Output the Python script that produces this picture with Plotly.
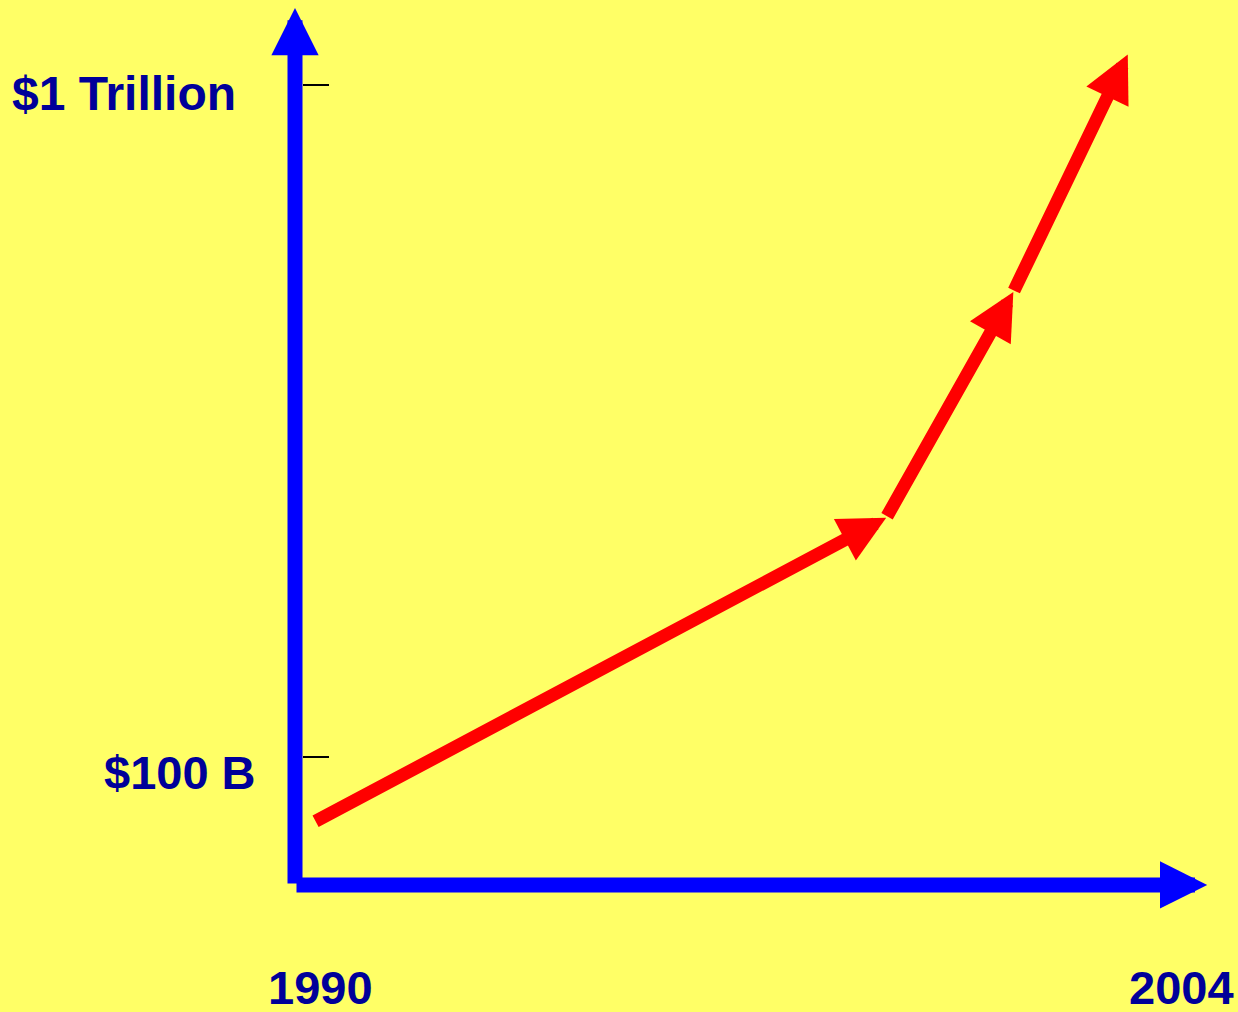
import numpy as np
import plotly.graph_objects as go

# ---- data ----
years = [1990.3, 1999.3, 2001.3, 2003.1]          # red growth path, x (year)
value_billion = [80, 227, 492, 1110]               # red growth path, y ($ billions, log scale)
tick_values = [100, 1000]                          # y tick positions ($ billions)
tick_labels = ["$100 B", "$1 Trillion"]
x_labels = ["1990", "2004"]
x_label_years = [1990, 2004]

# axis frame extents
origin_year = 1990
origin_value = 64.5
x_axis_end_year = 2004.35
y_axis_top_value = 1302

W, H = 1238, 1012
BG = "#FFFF66"
BLUE = "#0000FF"
RED = "#FF0000"
TEXT = "#000099"
FONT = "Liberation Sans"

# axis ranges chosen so that the full canvas is the plotting area
px_per_year = 63.57
x_range = [1990 - 295 / px_per_year, 1990 + (W - 295) / px_per_year]
px_per_decade = 672
y_range = [2 - (H - 757) / px_per_decade, 3 + 85 / px_per_decade]

fig = go.Figure()
# invisible trace to establish axes
fig.add_trace(go.Scatter(x=years, y=value_billion, mode="markers",
                         marker=dict(opacity=0), hoverinfo="skip", showlegend=False))

ann = []

def arrow(x0, y0, x1, y1, color, width, size):
    ann.append(dict(x=x1, y=np.log10(y1), ax=x0, ay=np.log10(y0),
                    xref="x", yref="y", axref="x", ayref="y",
                    text="", showarrow=True, arrowhead=2, arrowsize=size,
                    arrowwidth=width, arrowcolor=color, standoff=0))

# blue axes
arrow(origin_year, origin_value, origin_year, y_axis_top_value, BLUE, 15, 0.63)
arrow(origin_year, origin_value, x_axis_end_year, origin_value, BLUE, 15, 0.63)

# red growth arrows
for i in range(len(years) - 1):
    arrow(years[i], value_billion[i], years[i + 1], value_billion[i + 1], RED, 13, 0.72)

bold = dict(family=FONT, size=48, color=TEXT, weight="bold")
# y labels
ann.append(dict(x=10 / W, y=np.log10(tick_values[1]), xref="paper", yref="y",
                text=tick_labels[1], showarrow=False, xanchor="left", yanchor="middle",
                yshift=-8, font=bold))
ann.append(dict(x=258 / W, y=np.log10(tick_values[0]), xref="paper", yref="y",
                text=tick_labels[0], showarrow=False, xanchor="right", yanchor="middle",
                yshift=-15, font=dict(bold, size=47)))
# x labels
ann.append(dict(x=x_label_years[0], y=1 - 987 / H, xref="x", yref="paper",
                text=x_labels[0], showarrow=False, xanchor="center", yanchor="middle",
                xshift=25, font=dict(bold, size=47)))
ann.append(dict(x=1236 / W, y=1 - 987 / H, xref="paper", yref="paper",
                text=x_labels[1], showarrow=False, xanchor="right", yanchor="middle",
                font=dict(bold, size=47)))

fig.update_layout(
    width=W, height=H,
    margin=dict(l=0, r=0, t=0, b=0),
    paper_bgcolor=BG, plot_bgcolor=BG,
    showlegend=False,
    annotations=ann,
    xaxis=dict(range=x_range, domain=[0, 1], visible=False, fixedrange=True),
    yaxis=dict(type="log", range=y_range, domain=[0, 1],
               anchor="free", position=302 / W, side="left",
               showgrid=False, zeroline=False, showline=False,
               tickvals=tick_values, ticks="inside", ticklen=26,
               tickwidth=1.5, tickcolor="black", showticklabels=False,
               fixedrange=True),
)

fig.write_html(
    "out.html",
    config={"displayModeBar": False},
    post_script="document.body.style.margin='0px';"
                "document.body.style.overflow='hidden';"
                "document.body.style.background='#FFFF66';",
)
